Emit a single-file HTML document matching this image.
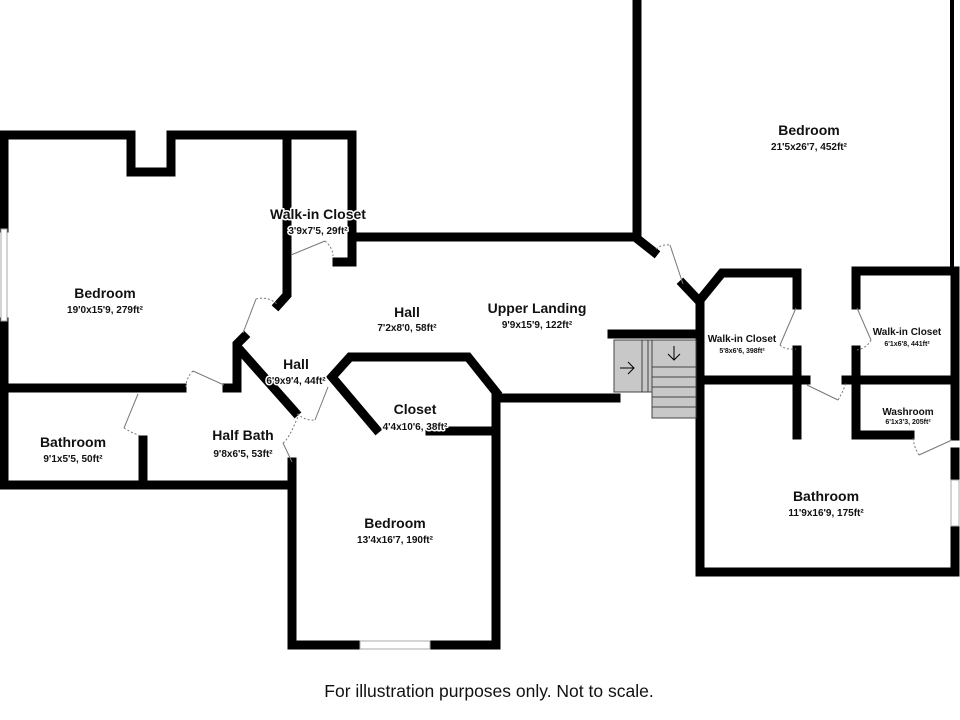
<!DOCTYPE html>
<html><head><meta charset="utf-8"><style>
html,body{margin:0;padding:0;background:#fff;}
svg{display:block}
text{font-family:"Liberation Sans",sans-serif;fill:#111;text-anchor:middle;paint-order:stroke;stroke:#fff;stroke-width:3px;stroke-linejoin:round}
.n{font-size:14px;font-weight:bold}
.s{font-size:10px;font-weight:bold}
.ns{font-size:10px;font-weight:bold}
.ss{font-size:7px;font-weight:bold}
</style></head><body>
<svg width="960" height="720" viewBox="0 0 960 720" xmlns="http://www.w3.org/2000/svg">
<g fill="none" stroke="#000" stroke-width="9" stroke-linejoin="miter" stroke-linecap="square">
<polyline points="4,228 4,135 131,135 131,172 171,172 171,135 352,135 352,262 337,262"/>
<polyline points="4,322 4,485 292,485"/>
<polyline points="287,135 287,295 278,305"/>
<line x1="4" y1="388" x2="182" y2="388"/>
<polyline points="227,388 237,388 237,344 244,337"/>
<line x1="240" y1="350" x2="295" y2="412"/>
<line x1="143" y1="440" x2="143" y2="485"/>
<polyline points="352,237 635,237 654,252"/>
<line x1="637" y1="0" x2="637" y2="237"/>
<polyline points="292,462 292,645 358,645"/>
<polyline points="431,645 496,645 496,398 616,398"/>
<line x1="430" y1="431" x2="496" y2="431"/>
<polyline points="376,429 332,377 350,357 468,357 496,392"/>
<polyline points="612,334 697,334"/>
<polyline points="683,284 700,302 700,572 955,572 955,528"/>
<polyline points="700,300 722,273 797,273 797,305"/>
<line x1="797" y1="350" x2="797" y2="435"/>
<line x1="700" y1="380" x2="806" y2="380"/>
<polyline points="856,305 856,271 955,271"/>
<polyline points="856,350 856,435 910,435"/>
<line x1="846" y1="380" x2="955" y2="380"/>
<line x1="955" y1="271" x2="955" y2="436"/>
<line x1="955" y1="452" x2="955" y2="478"/>
</g>
<line x1="952" y1="0" x2="952" y2="271" stroke="#000" stroke-width="4"/>
<g fill="#fff" stroke="#aaa" stroke-width="1">
<rect x="1" y="229" width="6" height="92"/>
<rect x="360" y="641" width="70" height="8"/>
<rect x="951" y="480" width="8" height="46"/>
</g>
<g fill="#c8c8c8" stroke="#444" stroke-width="1">
<rect x="614" y="340" width="28" height="52"/>
<rect x="642" y="340" width="6" height="52"/>
<rect x="648" y="340" width="4" height="52"/>
<rect x="652" y="340" width="44" height="27"/>
<rect x="652" y="367" width="44" height="10"/>
<rect x="652" y="377" width="44" height="10"/>
<rect x="652" y="387" width="44" height="10"/>
<rect x="652" y="397" width="44" height="10"/>
<rect x="652" y="407" width="44" height="11"/>
</g>
<g stroke="#000" stroke-width="1" fill="none">
<path d="M620,368 H634 M628,362 L634,368 L628,374"/>
<path d="M674,346 V360 M668,354 L674,360 L680,354"/>
</g>
<g stroke="#777" stroke-width="1" fill="none">
<path d="M243,333 L256,299"/><path d="M256,299 Q268,296 277,304" stroke-dasharray="2,2"/>
<path d="M291,255 L325,241"/><path d="M325,241 Q333,248 333,256" stroke-dasharray="2,2"/>
<path d="M224,385 L193,371"/><path d="M193,371 Q186,378 186,387" stroke-dasharray="2,2"/>
<path d="M138,394 L124,428"/><path d="M124,428 Q132,433 141,436" stroke-dasharray="2,2"/>
<path d="M315,420 L328,387"/><path d="M297,414 Q306,421 315,420" stroke-dasharray="2,2"/>
<path d="M283,443 L292,462"/><path d="M283,443 Q290,438 300,411" stroke-dasharray="2,2"/>
<path d="M683,284 L670,245"/><path d="M656,249 Q662,244 670,245" stroke-dasharray="2,2"/>
<path d="M796,308 L780,345"/><path d="M780,345 Q785,350 796,349" stroke-dasharray="2,2"/>
<path d="M857,308 L871,340"/><path d="M871,340 Q867,348 857,350" stroke-dasharray="2,2"/>
<path d="M807,385 L838,400"/><path d="M838,400 Q844,390 846,382" stroke-dasharray="2,2"/>
<path d="M952,440 L919,455"/><path d="M919,455 Q914,448 913,437" stroke-dasharray="2,2"/>
</g>
<text class="n" x="105" y="298">Bedroom</text><text class="s" x="105" y="313">19'0x15'9, 279ft²</text>
<text class="n" x="318" y="219">Walk-in Closet</text><text class="s" x="318" y="234">3'9x7'5, 29ft²</text>
<text class="n" x="407" y="317">Hall</text><text class="s" x="407" y="331">7'2x8'0, 58ft²</text>
<text class="n" x="537" y="313">Upper Landing</text><text class="s" x="537" y="328">9'9x15'9, 122ft²</text>
<text class="n" x="296" y="369">Hall</text><text class="s" x="296" y="384">6'9x9'4, 44ft²</text>
<text class="n" x="415" y="414">Closet</text><text class="s" x="415" y="430">4'4x10'6, 38ft²</text>
<text class="n" x="73" y="447">Bathroom</text><text class="s" x="73" y="462">9'1x5'5, 50ft²</text>
<text class="n" x="243" y="440">Half Bath</text><text class="s" x="243" y="457">9'8x6'5, 53ft²</text>
<text class="n" x="395" y="528">Bedroom</text><text class="s" x="395" y="543">13'4x16'7, 190ft²</text>
<text class="n" x="809" y="135">Bedroom</text><text class="s" x="809" y="150">21'5x26'7, 452ft²</text>
<text class="ns" x="742" y="342">Walk-in Closet</text><text class="ss" x="742" y="353">5'8x6'6, 398ft²</text>
<text class="ns" x="907" y="335">Walk-in Closet</text><text class="ss" x="907" y="346">6'1x6'8, 441ft²</text>
<text class="ns" x="908" y="415">Washroom</text><text class="ss" x="908" y="424">6'1x3'3, 205ft²</text>
<text class="n" x="826" y="501">Bathroom</text><text class="s" x="826" y="516">11'9x16'9, 175ft²</text>
<text x="489" y="697" style="font-size:17.5px;stroke:none">For illustration purposes only. Not to scale.</text>
</svg>
</body></html>
